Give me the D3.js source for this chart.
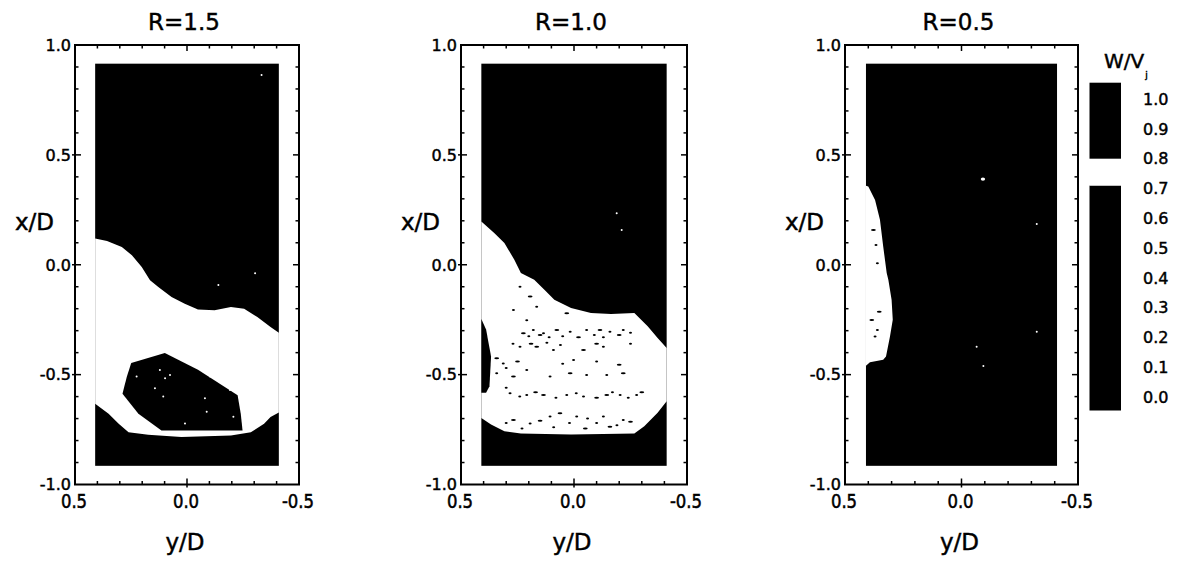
<!DOCTYPE html>
<html>
<head>
<meta charset="utf-8">
<script src="https://cdn.jsdelivr.net/npm/d3@7"></script>
<style>
  body { margin: 0; background: #fff; }
  svg { display: block; }
  text { stroke: #000; stroke-width: 0.45px; }
</style>
</head>
<body>
<div id="chart"></div>
<script>
"use strict";

///////////////////////////
// data (y/D, x/D pairs)
///////////////////////////
const titles = ["R=1.5", "R=1.0", "R=0.5"];
const fieldY = [0.41, -0.41];
const fieldX = [0.915, -0.915];
const fieldLevel = 0.9;

// R=1.5 : white band (0.7-0.8) and dark core island
const r15Band = [[0.41,0.119],[0.357,0.108],[0.291,0.081],[0.246,0.043],[0.202,-0.01],[0.165,-0.071],[0.128,-0.101],[0.069,-0.147],[0.01,-0.177],[-0.049,-0.204],[-0.123,-0.207],[-0.196,-0.192],[-0.255,-0.2],[-0.314,-0.238],[-0.373,-0.283],[-0.41,-0.31],[-0.41,-0.672],[-0.373,-0.693],[-0.344,-0.724],[-0.285,-0.762],[-0.196,-0.777],[0.025,-0.784],[0.173,-0.774],[0.261,-0.762],[0.305,-0.724],[0.35,-0.678],[0.41,-0.632]];
const r15Island = [[0.249,-0.447],[0.099,-0.402],[-0.049,-0.478],[-0.181,-0.564],[-0.226,-0.594],[-0.24,-0.678],[-0.248,-0.754],[0.114,-0.754],[0.217,-0.678],[0.288,-0.587],[0.269,-0.511]];
const r15LightSpecks = [[0.225,-0.509],[0.121,-0.479],[0.098,-0.517],[0.076,-0.502],[0.143,-0.562],[0.106,-0.6],[0.009,-0.722],[-0.08,-0.608],[-0.103,-0.509],[-0.192,-0.57],[-0.207,-0.692],[-0.088,-0.669],[-0.333,0.863],[-0.304,-0.039],[-0.14,-0.092]];

// R=1.0
const r10Band = [[0.41,0.197],[0.353,0.144],[0.308,0.099],[0.264,0.023],[0.235,-0.038],[0.176,-0.068],[0.131,-0.114],[0.087,-0.159],[0.013,-0.197],[-0.075,-0.22],[-0.164,-0.224],[-0.267,-0.22],[-0.326,-0.28],[-0.37,-0.333],[-0.41,-0.379],[-0.41,-0.621],[-0.37,-0.674],[-0.311,-0.735],[-0.267,-0.768],[0.013,-0.773],[0.235,-0.768],[0.308,-0.758],[0.367,-0.727],[0.41,-0.697]];
const r10Sliver = [[0.41,-0.247],[0.389,-0.295],[0.367,-0.417],[0.374,-0.553],[0.389,-0.583],[0.41,-0.583]];
const r10DarkSpecks = [[0.224,-0.312],[0.18,-0.297],[0.135,-0.312],[0.076,-0.297],[0.017,-0.305],[-0.056,-0.297],[-0.115,-0.297],[-0.159,-0.305],[-0.218,-0.297],[0.032,-0.221],[0.209,-0.252],[0.239,-0.373],[0.165,-0.373],[0.091,-0.388],[0.002,-0.433],[-0.042,-0.388],[-0.13,-0.373],[0.313,-0.449],[0.268,-0.509],[0.209,-0.479],[0.106,-0.509],[0.017,-0.494],[-0.056,-0.502],[-0.145,-0.502],[-0.218,-0.494],[0.283,-0.585],[0.209,-0.593],[0.135,-0.593],[0.032,-0.593],[-0.042,-0.6],[-0.145,-0.593],[-0.204,-0.593],[-0.277,-0.593],[0.268,-0.706],[0.194,-0.722],[0.106,-0.691],[0.062,-0.676],[-0.012,-0.691],[-0.13,-0.691],[-0.159,-0.737],[-0.218,-0.706],[0.239,-0.1],[0.194,-0.145],[0.165,-0.191],[0.268,-0.206],[0.342,-0.426],[0.342,-0.494],
  [0.2,-0.325],[0.15,-0.32],[0.11,-0.33],[0.05,-0.325],[-0.02,-0.33],[-0.09,-0.32],[-0.13,-0.33],[-0.2,-0.32],[-0.25,-0.31],
  [0.27,-0.36],[0.19,-0.36],[0.12,-0.355],[0.06,-0.365],[-0.1,-0.36],[-0.25,-0.36],
  [0.3,-0.47],[0.25,-0.44],[0.05,-0.45],[-0.1,-0.44],[-0.2,-0.455],
  [0.3,-0.56],[0.24,-0.6],[0.17,-0.58],[0.08,-0.605],[-0.01,-0.585],[-0.1,-0.605],[-0.17,-0.58],[-0.24,-0.605],[-0.3,-0.58],
  [0.3,-0.72],[0.23,-0.745],[0.15,-0.71],[0.09,-0.74],[0.02,-0.72],[-0.05,-0.745],[-0.1,-0.72],[-0.19,-0.73],[-0.25,-0.715],[-0.06,-0.7]];
const r10LightSpecks = [[-0.189,0.234],[-0.211,0.158]];

// R=0.5
const r05Band = [[0.41,0.36],[0.40,0.356],[0.371,0.295],[0.35,0.205],[0.336,0.083],[0.321,-0.038],[0.314,-0.068],[0.30,-0.159],[0.295,-0.25],[0.307,-0.326],[0.324,-0.417],[0.336,-0.432],[0.393,-0.444],[0.41,-0.46]];
const r05DarkSpecks = [[0.378,0.158],[0.367,0.09],[0.361,0.007],[0.353,-0.214],[0.361,-0.297],[0.371,-0.327],[0.385,-0.251]];
const r05LightSpecks = [[-0.092,0.39],[-0.323,0.185],[-0.323,-0.305],[-0.094,-0.461],[-0.065,-0.373]];

// tick labels
const yTickVals = [0.5, 0, -0.5];
const yTickText = ["0.5", "0.0", "-0.5"];
const xTickVals = [1, 0.5, 0, -0.5, -1];
const xTickText = ["1.0", "0.5", "0.0", "-0.5", "-1.0"];

// colour bar W/Vj
const barLevels = [-0.045, 0.71, 0.80, 1.055];
const barTickVals = [1.0, 0.9, 0.8, 0.7, 0.6, 0.5, 0.4, 0.3, 0.2, 0.1, 0.0];
const barTickText = ["1.0","0.9","0.8","0.7","0.6","0.5","0.4","0.3","0.2","0.1","0.0"];

const panels = [
  { title: titles[0], regions: [{ level: 0.75, pts: r15Band }, { level: 0.6, pts: r15Island }], dark: [], light: r15LightSpecks },
  { title: titles[1], regions: [{ level: 0.75, pts: r10Band }, { level: 0.6, pts: r10Sliver }], dark: r10DarkSpecks, light: r10LightSpecks },
  { title: titles[2], regions: [{ level: 0.75, pts: r05Band }], dark: r05DarkSpecks, light: r05LightSpecks },
];

///////////////////////////
// layout
///////////////////////////
const frameLeft = [75, 461, 845],
  frameRight = [299, 687, 1078],
  frameTop = 45,
  frameBottom = 484.5;

const color = d3.scaleThreshold().domain([0.7, 0.8]).range(["#000", "#fff", "#000"]);

const svg = d3
  .select("#chart")
  .append("svg")
  .attr("width", 1179)
  .attr("height", 561)
  .style("font-family", "'DejaVu Sans', sans-serif");

panels.forEach((p, i) => {
  const xs = d3.scaleLinear().domain([0.5, -0.5]).range([frameLeft[i], frameRight[i]]);
  const ys = d3.scaleLinear().domain([1, -1]).range([frameTop, frameBottom]);
  const line = d3.line().x((d) => xs(d[0])).y((d) => ys(d[1]));
  const g = svg.append("g");

  // measured field
  g.append("rect")
    .attr("x", xs(fieldY[0]))
    .attr("y", ys(fieldX[0]))
    .attr("width", xs(fieldY[1]) - xs(fieldY[0]))
    .attr("height", ys(fieldX[1]) - ys(fieldX[0]))
    .attr("fill", color(fieldLevel));

  g.selectAll("path.region")
    .data(p.regions)
    .enter()
    .append("path")
    .attr("class", "region")
    .attr("d", (d) => line(d.pts) + "Z")
    .attr("fill", (d) => color(d.level));

  g.selectAll("ellipse.dark")
    .data(p.dark)
    .enter()
    .append("ellipse")
    .attr("class", "dark")
    .attr("cx", (d) => xs(d[0]))
    .attr("cy", (d) => ys(d[1]))
    .attr("rx", (d, j) => (j % 3 === 0 ? 2.4 : 1.5))
    .attr("ry", 1)
    .attr("fill", "#000");

  g.selectAll("ellipse.light")
    .data(p.light)
    .enter()
    .append("ellipse")
    .attr("class", "light")
    .attr("cx", (d) => xs(d[0]))
    .attr("cy", (d) => ys(d[1]))
    .attr("rx", (d, j) => (i === 2 && j === 0 ? 2.2 : 1))
    .attr("ry", (d, j) => (i === 2 && j === 0 ? 1.6 : 1))
    .attr("fill", "#fff");

  // frame
  g.append("rect")
    .attr("x", frameLeft[i])
    .attr("y", frameTop)
    .attr("width", frameRight[i] - frameLeft[i])
    .attr("height", frameBottom - frameTop)
    .attr("fill", "none")
    .attr("stroke", "#000")
    .attr("stroke-width", 2);

  // ticks on all four sides
  const yMinor = d3.range(-4, 5).map((k) => k / 10);
  const xMinor = d3.range(-9, 10).map((k) => k / 10);
  const isMajor = (v) => Math.abs(v * 2 - Math.round(v * 2)) < 1e-6;
  const tk = g.append("g").attr("stroke", "#000").attr("stroke-width", 1.5);
  yMinor.forEach((v) => {
    const len = isMajor(v) ? 6 : 3.5;
    tk.append("line").attr("x1", xs(v)).attr("x2", xs(v)).attr("y1", frameTop).attr("y2", frameTop + len);
    tk.append("line").attr("x1", xs(v)).attr("x2", xs(v)).attr("y1", frameBottom + (isMajor(v) ? 3 : 0)).attr("y2", frameBottom - len);
  });
  xMinor.forEach((v) => {
    const len = isMajor(v) ? 6 : 3.5;
    tk.append("line").attr("y1", ys(v)).attr("y2", ys(v)).attr("x1", frameLeft[i] - (isMajor(v) ? 3 : 0)).attr("x2", frameLeft[i] + len);
    tk.append("line").attr("y1", ys(v)).attr("y2", ys(v)).attr("x1", frameRight[i]).attr("x2", frameRight[i] - len);
  });

  // tick labels
  g.selectAll("text.ylab")
    .data(xTickVals)
    .enter()
    .append("text")
    .attr("class", "ylab")
    .attr("x", frameLeft[i] - 4)
    .attr("y", (d) => ys(d))
    .attr("dy", "0.36em")
    .attr("text-anchor", "end")
    .attr("font-size", 16)
    .text((d, j) => xTickText[j]);

  g.selectAll("text.xlab")
    .data(yTickVals)
    .enter()
    .append("text")
    .attr("class", "xlab")
    .attr("transform", (d) => `translate(${xs(d) - 1},508) scale(1,1.22)`)
    .attr("text-anchor", "middle")
    .attr("font-size", 16.5)
    .text((d, j) => yTickText[j]);

  // titles
  g.append("text")
    .attr("x", (frameLeft[i] + frameRight[i]) / 2 - 3)
    .attr("y", 30)
    .attr("text-anchor", "middle")
    .attr("font-size", 23)
    .text(p.title);

  g.append("text")
    .attr("x", frameLeft[i] - 21)
    .attr("y", 230)
    .attr("text-anchor", "end")
    .attr("font-size", 23)
    .text("x/D");

  g.append("text")
    .attr("x", (frameLeft[i] + frameRight[i]) / 2 - 2)
    .attr("y", 550)
    .attr("text-anchor", "middle")
    .attr("font-size", 23)
    .text("y/D");
});

///////////////////////////
// colour bar
///////////////////////////
const cb = d3.scaleLinear().domain([barLevels[0], barLevels[barLevels.length - 1]]).range([410.5, 82.7]);
const bands = d3.pairs(barLevels);
svg
  .selectAll("rect.band")
  .data(bands)
  .enter()
  .append("rect")
  .attr("class", "band")
  .attr("x", 1089.5)
  .attr("width", 31.5)
  .attr("y", (d) => cb(d[1]))
  .attr("height", (d) => cb(d[0]) - cb(d[1]))
  .attr("fill", (d) => color((d[0] + d[1]) / 2));

svg
  .selectAll("text.cblab")
  .data(barTickVals)
  .enter()
  .append("text")
  .attr("class", "cblab")
  .attr("x", 1143)
  .attr("y", (d) => cb(d))
  .attr("dy", "0.36em")
  .attr("font-size", 16)
  .text((d, j) => barTickText[j]);

const cbTitle = svg.append("text").attr("x", 1104).attr("y", 68).attr("font-size", 20);
cbTitle.append("tspan").text("W/V");
cbTitle.append("tspan").attr("font-size", 9).attr("dx", 1).attr("dy", 10).text("j");
</script>
</body>
</html>
